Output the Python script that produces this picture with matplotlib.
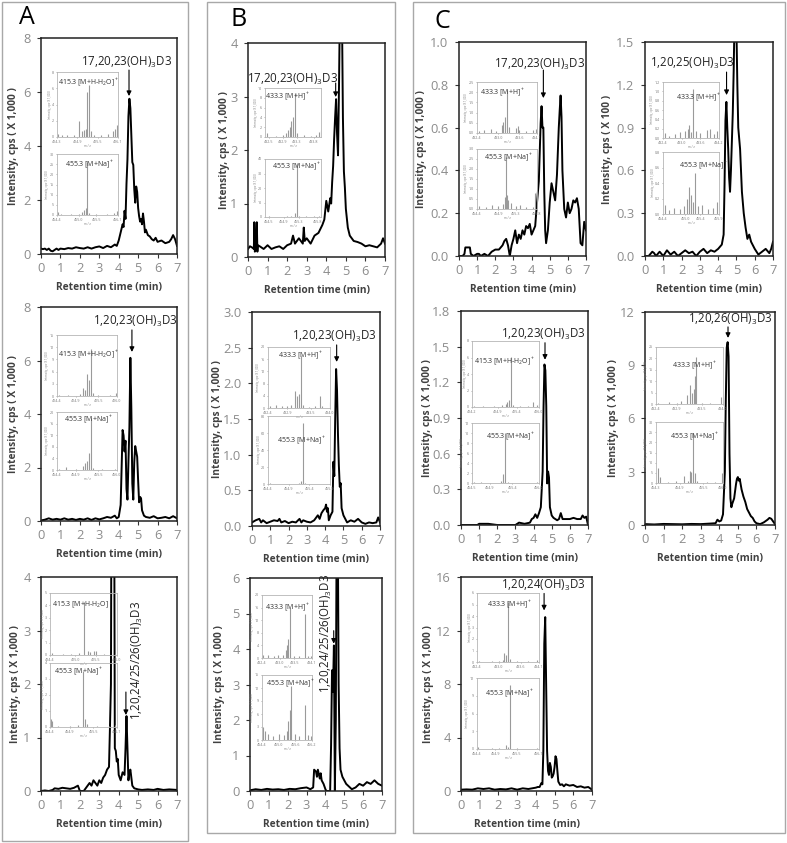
import matplotlib
matplotlib.use('Agg')
import matplotlib.pyplot as plt
from matplotlib.patches import Rectangle
import numpy as np

plt.rcParams['font.family'] = ['Open Sans', 'DejaVu Sans']
plt.rcParams['mathtext.default'] = 'regular'

# ---- chromatograms (retention time, intensity) ----
a1_t = [0.0, 0.1, 0.2, 0.3, 0.4, 0.5, 0.6, 0.7, 0.8, 0.9,
        1.0, 1.2, 1.4, 1.6, 1.8, 2.0, 2.2, 2.4, 2.6, 2.8,
        3.0, 3.2, 3.4, 3.6, 3.7, 3.8, 3.9, 4.0, 4.1, 4.2,
        4.25, 4.3, 4.35, 4.4, 4.45, 4.5, 4.55, 4.6, 4.65, 4.7,
        4.75, 4.8, 4.85, 4.9, 4.95, 5.0, 5.05, 5.1, 5.15, 5.2,
        5.25, 5.3, 5.35, 5.4, 5.5, 5.6, 5.7, 5.8, 5.9, 6.0,
        6.2, 6.4, 6.6, 6.7, 6.8, 6.9, 7.0]
a1_v = [0.2, 0.18, 0.2, 0.15, 0.2, 0.12, 0.1, 0.15, 0.2, 0.15,
        0.2, 0.18, 0.22, 0.2, 0.25, 0.22, 0.2, 0.25, 0.2, 0.25,
        0.28, 0.22, 0.3, 0.25, 0.3, 0.35, 0.3, 0.5, 0.8, 1.1,
        1.0, 1.6, 1.3, 2.6, 3.5, 5.1, 5.75, 5.4, 4.4, 3.4,
        3.3, 2.4, 1.9, 2.5, 2.3, 1.7, 1.4, 1.2, 1.3, 1.1,
        1.5, 1.2, 0.8, 0.9, 0.7, 0.65, 0.55, 0.5, 0.6, 0.45,
        0.5, 0.4, 0.45, 0.55, 0.7, 0.55, 0.3]

a2_t = [0.0, 0.2, 0.4, 0.6, 0.8, 1.0, 1.2, 1.4, 1.6, 1.8,
        2.0, 2.2, 2.4, 2.6, 2.8, 3.0, 3.2, 3.4, 3.6, 3.8,
        3.9, 4.0, 4.1, 4.15, 4.2, 4.25, 4.3, 4.35, 4.4, 4.45,
        4.5, 4.55, 4.6, 4.65, 4.7, 4.75, 4.8, 4.85, 4.9, 4.95,
        5.0, 5.05, 5.1, 5.15, 5.2, 5.3, 5.4, 5.6, 5.8, 6.0,
        6.2, 6.4, 6.6, 6.8, 7.0]
a2_v = [0.02, 0.05, 0.1, 0.05, 0.08, 0.05, 0.1, 0.05, 0.08, 0.04,
        0.08, 0.05, 0.1, 0.04, 0.1, 0.06, 0.1, 0.15, 0.12, 0.2,
        0.1, 0.15, 0.6, 2.0, 3.4, 3.2, 2.6, 3.0, 1.2, 0.8,
        2.2, 3.5, 6.1, 4.2, 1.4, 0.8, 2.2, 2.8, 2.6, 2.4,
        1.5, 0.7, 0.9, 0.85, 0.4, 0.2, 0.15, 0.12, 0.18, 0.1,
        0.12, 0.15, 0.1, 0.18, 0.1]

a3_t = [0.0, 0.2, 0.4, 0.6, 0.7, 0.9, 1.1, 1.3, 1.5, 1.7,
        1.9, 2.0, 2.1, 2.2, 2.3, 2.4, 2.5, 2.6, 2.7, 2.8,
        2.9, 3.0, 3.1, 3.2, 3.3, 3.4, 3.5, 3.55, 3.6, 3.65,
        3.7, 3.75, 3.8, 3.85, 3.9, 3.95, 4.0, 4.1, 4.2, 4.3,
        4.35, 4.4, 4.45, 4.5, 4.55, 4.6, 4.7, 4.8, 5.0, 5.2,
        5.5, 5.8, 6.0, 6.3, 6.6, 7.0]
a3_v = [0.0, 0.01, 0.0, 0.02, 0.05, 0.04, 0.06, 0.05, 0.04, 0.06,
        0.1, 0.0, 0.0, 0.0, 0.05, 0.1, 0.15, 0.1, 0.2, 0.15,
        0.1, 0.2, 0.15, 0.25, 0.3, 0.4, 0.45, 1.2, 2.0, 9.0,
        9.0, 8.0, 0.8, 0.75, 0.55, 0.6, 0.3, 0.2, 0.35, 0.3,
        0.8, 1.4, 0.8, 0.2, 0.35, 0.4, 0.1, 0.05, 0.03, 0.02,
        0.03, 0.02, 0.04, 0.02, 0.03, 0.02]

b1_t = [0.0, 0.1, 0.2, 0.3, 0.32, 0.35, 0.4, 0.45, 0.48, 0.5,
        0.6, 0.8, 1.0, 1.2, 1.4, 1.6, 1.8, 2.0, 2.2, 2.3,
        2.4, 2.5, 2.6, 2.7, 2.8, 2.85, 2.9, 3.0, 3.2, 3.4,
        3.6, 3.8, 3.9, 4.0, 4.1, 4.2, 4.25, 4.3, 4.35, 4.4,
        4.45, 4.5, 4.55, 4.6, 4.65, 4.7, 4.75, 4.8, 4.85, 4.9,
        4.95, 5.0, 5.1, 5.2, 5.3, 5.4, 5.6, 5.8, 6.0, 6.2,
        6.4, 6.6, 6.8, 6.9, 7.0]
b1_v = [0.15, 0.2, 0.18, 0.15, 0.65, 0.1, 0.2, 0.65, 0.1, 0.22,
        0.2, 0.15, 0.22, 0.15, 0.18, 0.2, 0.15, 0.22, 0.25, 0.4,
        0.25, 0.3, 0.35, 0.3, 0.25, 0.55, 0.3, 0.35, 0.25, 0.4,
        0.45, 0.6, 0.7, 1.05, 0.85, 1.1, 1.0, 1.4, 1.7, 2.2,
        2.6, 2.95, 2.3, 1.9, 3.2, 4.8, 5.5, 4.6, 2.6, 1.6,
        1.3, 0.9, 0.55, 0.4, 0.35, 0.3, 0.28, 0.25, 0.2, 0.22,
        0.2, 0.18, 0.25, 0.35, 0.25]

b2_t = [0.0, 0.2, 0.4, 0.5, 0.6, 0.8, 1.0, 1.2, 1.4, 1.5,
        1.6, 1.8, 2.0, 2.2, 2.4, 2.6, 2.7, 2.8, 3.0, 3.2,
        3.4, 3.6, 3.7, 3.8, 3.9, 4.0, 4.05, 4.1, 4.15, 4.2,
        4.3, 4.4, 4.45, 4.5, 4.55, 4.6, 4.65, 4.7, 4.75, 4.8,
        4.85, 4.9, 5.0, 5.1, 5.2, 5.4, 5.6, 5.8, 6.0, 6.2,
        6.4, 6.6, 6.8, 6.9, 7.0]
b2_v = [0.05, 0.08, 0.1, 0.05, 0.08, 0.04, 0.06, 0.08, 0.07, 0.1,
        0.05, 0.07, 0.04, 0.06, 0.05, 0.1, 0.05, 0.08, 0.06, 0.05,
        0.08, 0.15, 0.1, 0.18, 0.22, 0.25, 0.3, 0.2, 0.25, 0.08,
        0.15, 0.2, 0.9, 0.7, 1.5, 2.2, 1.9, 1.3, 0.85, 0.55,
        0.6, 0.25, 0.15, 0.1, 0.05, 0.08, 0.06, 0.1, 0.05, 0.03,
        0.05, 0.04, 0.05, 0.12, 0.05]

b3_t = [0.0, 0.3, 0.6, 0.9, 1.2, 1.5, 1.8, 2.1, 2.4, 2.7,
        3.0, 3.2, 3.35, 3.4, 3.5, 3.55, 3.6, 3.7, 3.75, 3.8,
        3.9, 4.0, 4.05, 4.1, 4.2, 4.25, 4.3, 4.35, 4.4, 4.45,
        4.5, 4.55, 4.6, 4.65, 4.7, 4.75, 4.8, 4.9, 5.0, 5.1,
        5.2, 5.4, 5.6, 5.8, 6.0, 6.2, 6.4, 6.6, 6.8, 7.0]
b3_v = [0.02, 0.05, 0.03, 0.06, 0.04, 0.05, 0.03, 0.06, 0.05, 0.08,
        0.1, 0.05, 0.1, 0.6, 0.55, 0.4, 0.6, 0.35, 0.5, 0.3,
        0.2, 0.05, 0.0, 0.0, 0.0, 0.0, 1.3, 3.4, 2.8, 4.1,
        0.0, 2.0, 8.0, 8.0, 3.0, 1.2, 0.6, 0.4, 0.3, 0.2,
        0.15, 0.05, 0.1, 0.2, 0.15, 0.25, 0.2, 0.3, 0.2, 0.15]

c1_t = [0.0, 0.2, 0.3, 0.35, 0.6, 0.65, 0.8, 1.0, 1.1, 1.2,
        1.4, 1.6, 1.8, 2.0, 2.2, 2.4, 2.5, 2.6, 2.7, 2.8,
        2.9, 3.0, 3.1, 3.2, 3.3, 3.4, 3.5, 3.6, 3.7, 3.8,
        3.9, 4.0, 4.1, 4.2, 4.3, 4.4, 4.5, 4.55, 4.6, 4.65,
        4.7, 4.75, 4.8, 4.9, 5.0, 5.1, 5.2, 5.3, 5.4, 5.5,
        5.55, 5.6, 5.65, 5.7, 5.8, 5.9, 6.0, 6.1, 6.2, 6.3,
        6.4, 6.5, 6.6, 6.7, 6.8, 6.9, 7.0]
c1_v = [0.0, 0.0, 0.01, 0.04, 0.04, 0.01, 0.0, 0.01, 0.01, 0.0,
        0.01, 0.0, 0.02, 0.03, 0.03, 0.05, 0.07, 0.08, 0.05, 0.0,
        0.05, 0.08, 0.12, 0.06, 0.1, 0.08, 0.12, 0.1, 0.14, 0.13,
        0.15, 0.1, 0.12, 0.14, 0.25, 0.35, 0.62, 0.7, 0.6, 0.6,
        0.3, 0.12, 0.06, 0.12, 0.25, 0.34, 0.3, 0.26, 0.38, 0.6,
        0.68, 0.75, 0.65, 0.4, 0.22, 0.18, 0.25, 0.2, 0.22, 0.26,
        0.25, 0.27, 0.22, 0.06, 0.05, 0.16, 0.12]

c2_t = [0.0, 0.2, 0.4, 0.5, 0.6, 0.8, 1.0, 1.2, 1.4, 1.6,
        1.8, 2.0, 2.2, 2.4, 2.6, 2.8, 3.0, 3.2, 3.4, 3.6,
        3.8, 4.0, 4.2, 4.3, 4.35, 4.4, 4.45, 4.5, 4.55, 4.6,
        4.65, 4.7, 4.75, 4.8, 4.85, 4.9, 4.95, 5.0, 5.05, 5.1,
        5.2, 5.3, 5.4, 5.5, 5.6, 5.7, 5.8, 6.0, 6.2, 6.4,
        6.6, 6.8, 6.9, 7.0]
c2_v = [0.0, 0.0, 0.03, 0.02, 0.0, 0.03, 0.0, 0.04, 0.01, 0.03,
        0.0, 0.02, 0.04, 0.02, 0.03, 0.0, 0.03, 0.05, 0.02, 0.04,
        0.03, 0.05, 0.08, 0.15, 0.5, 0.95, 1.08, 0.9, 0.75, 0.55,
        0.45, 0.6, 0.8, 1.0, 1.3, 1.7, 1.9, 1.6, 1.2, 0.9,
        0.75, 0.45, 0.3, 0.2, 0.12, 0.15, 0.1, 0.05, 0.01, 0.03,
        0.05, 0.02, 0.05, 0.1]

c3_t = [0.0, 0.5, 0.9, 1.0, 1.5, 2.0, 2.5, 3.0, 3.2, 3.5,
        3.8, 3.9, 4.0, 4.1, 4.2, 4.3, 4.4, 4.45, 4.5, 4.55,
        4.6, 4.65, 4.7, 4.75, 4.8, 4.85, 4.9, 5.0, 5.1, 5.2,
        5.3, 5.4, 5.5, 5.6, 5.8, 6.0, 6.2, 6.4, 6.6, 6.7,
        6.8, 6.9, 7.0]
c3_v = [0.0, 0.0, 0.0, 0.01, 0.01, 0.0, 0.0, 0.0, 0.02, 0.01,
        0.02, 0.05, 0.06, 0.09, 0.06, 0.1, 0.15, 0.3, 0.45, 1.0,
        1.35, 1.3, 1.0, 0.35, 0.45, 0.4, 0.15, 0.08, 0.06, 0.05,
        0.04, 0.05, 0.1, 0.05, 0.05, 0.05, 0.06, 0.05, 0.05, 0.08,
        0.06, 0.07, 0.0]

c4_t = [0.0, 0.5, 1.0, 1.5, 2.0, 2.5, 3.0, 3.5, 3.8, 3.9,
        4.0, 4.1, 4.2, 4.3, 4.35, 4.4, 4.45, 4.5, 4.55, 4.6,
        4.65, 4.7, 4.8, 4.9, 4.95, 5.0, 5.05, 5.1, 5.2, 5.3,
        5.4, 5.5, 5.6, 5.7, 5.8, 5.9, 6.0, 6.2, 6.4, 6.6,
        6.7, 6.8, 6.9, 7.0]
c4_v = [0.05, 0.03, 0.06, 0.05, 0.04, 0.06, 0.05, 0.08, 0.1, 0.3,
        0.2, 0.25, 0.6, 3.0, 7.0, 10.0, 10.3, 9.5, 4.0, 1.5,
        1.0, 1.2, 1.5, 2.3, 2.6, 2.7, 2.5, 2.6, 2.0, 1.6,
        1.3, 0.9, 0.7, 0.5, 0.4, 0.2, 0.1, 0.05, 0.15, 0.3,
        0.4, 0.35, 0.2, 0.05]

c5_t = [0.0, 0.3, 0.6, 0.9, 1.2, 1.5, 1.8, 2.1, 2.4, 2.7,
        3.0, 3.3, 3.6, 3.8, 4.0, 4.1, 4.2, 4.3, 4.35, 4.4,
        4.45, 4.5, 4.55, 4.6, 4.65, 4.7, 4.75, 4.8, 4.85, 4.9,
        4.95, 5.0, 5.05, 5.1, 5.15, 5.2, 5.3, 5.4, 5.5, 5.6,
        5.8, 6.0, 6.2, 6.4, 6.6, 6.8, 6.9, 7.0]
c5_v = [0.1, 0.12, 0.1, 0.2, 0.15, 0.2, 0.1, 0.15, 0.12, 0.2,
        0.1, 0.2, 0.15, 0.2, 0.25, 0.3, 0.3, 0.6, 0.5, 3.0,
        11.0, 13.0, 8.0, 3.0, 1.5, 1.2, 2.1, 1.8, 1.0, 1.1,
        1.3, 1.8, 2.6, 2.4, 1.5, 0.7, 0.45, 0.5, 0.35, 0.5,
        0.4, 0.45, 0.3, 0.35, 0.25, 0.3, 0.2, 0.1]

# ---- inset mass spectra (m/z, intensity) ----
a1_ms1_mz = [414.32, 414.45, 414.6, 414.8, 414.95, 415.05, 415.1, 415.15, 415.2, 415.25, 415.3, 415.4, 415.6, 415.8, 415.95, 416.02, 416.08]
a1_ms1_i = [0.4, 0.2, 0.2, 0.25, 2.0, 0.8, 0.9, 1.0, 5.6, 6.4, 0.8, 0.3, 0.3, 0.4, 0.7, 1.0, 1.5]
a1_ms2_mz = [454.42, 454.5, 454.8, 455.0, 455.1, 455.15, 455.2, 455.25, 455.3, 455.5, 455.8, 456.0, 456.08]
a1_ms2_i = [1.5, 0.5, 0.3, 0.5, 1.5, 2.5, 3.5, 26.0, 1.0, 0.5, 0.4, 1.0, 2.0]

a2_ms1_mz = [414.45, 414.7, 415.0, 415.1, 415.15, 415.2, 415.25, 415.3, 415.35, 415.5, 415.8, 415.98]
a2_ms1_i = [0.3, 0.2, 0.5, 2.0, 1.5, 5.5, 4.0, 11.5, 0.8, 0.3, 0.3, 0.8]
a2_ms2_mz = [454.45, 454.65, 454.9, 455.1, 455.15, 455.2, 455.25, 455.3, 455.35, 455.6, 455.95]
a2_ms2_i = [0.5, 1.2, 0.3, 1.5, 2.5, 3.0, 6.0, 18.0, 0.6, 0.3, 0.5]

a3_ms1_mz = [414.45, 414.7, 414.9, 415.1, 415.2, 415.3, 415.35, 415.45, 415.5, 415.7, 415.95]
a3_ms1_i = [0.15, 0.1, 0.1, 0.15, 4.3, 0.3, 0.25, 0.35, 0.3, 0.1, 0.1]
a3_ms2_mz = [454.42, 454.45, 454.6, 454.9, 455.1, 455.25, 455.3, 455.35, 455.6, 455.9, 456.05]
a3_ms2_i = [0.5, 0.4, 0.05, 0.05, 0.1, 3.5, 0.5, 0.2, 0.05, 0.05, 0.1]

b1_ms1_mz = [432.45, 432.7, 432.9, 433.0, 433.05, 433.1, 433.15, 433.2, 433.25, 433.3, 433.5, 433.7, 433.85, 433.95, 434.0]
b1_ms1_i = [0.8, 0.3, 0.4, 0.8, 1.5, 2.0, 3.2, 4.0, 9.0, 0.8, 0.4, 0.3, 0.5, 1.0, 1.5]
b1_ms2_mz = [454.5, 454.8, 455.0, 455.1, 455.2, 455.25, 455.3, 455.5, 455.7, 455.85]
b1_ms2_i = [0.5, 0.3, 0.5, 1.0, 2.5, 37.0, 1.0, 0.5, 0.8, 0.5]

b2_ms1_mz = [432.45, 432.6, 432.75, 432.9, 433.0, 433.1, 433.15, 433.2, 433.25, 433.3, 433.45, 433.6, 433.75, 433.8, 434.0]
b2_ms1_i = [0.5, 1.0, 0.8, 0.5, 1.0, 5.5, 4.0, 4.5, 17.0, 1.0, 0.4, 0.5, 3.8, 0.8, 2.0]
b2_ms2_mz = [454.45, 454.7, 455.0, 455.15, 455.2, 455.25, 455.3, 455.5, 455.8]
b2_ms2_i = [1.0, 0.5, 0.5, 1.0, 3.0, 72.0, 1.5, 0.5, 0.5]

b3_ms1_mz = [432.45, 432.6, 432.8, 432.95, 433.1, 433.2, 433.25, 433.3, 433.35, 433.5, 433.65, 433.85, 433.95, 434.05]
b3_ms1_i = [0.8, 1.0, 0.6, 0.8, 1.0, 2.5, 4.0, 6.0, 16.0, 0.6, 0.5, 14.0, 0.5, 0.6]
b3_ms2_mz = [454.42, 454.5, 454.6, 454.8, 455.0, 455.2, 455.3, 455.35, 455.4, 455.45, 455.6, 455.75, 455.95, 456.05, 456.15]
b3_ms2_i = [3.0, 2.0, 1.5, 1.0, 1.5, 1.2, 2.0, 4.5, 7.0, 12.5, 1.5, 1.0, 8.0, 1.2, 1.0]

c1_ms1_mz = [432.45, 432.6, 432.8, 432.95, 433.1, 433.15, 433.2, 433.25, 433.3, 433.5, 433.55, 433.6, 433.8, 434.0, 434.08]
c1_ms1_i = [0.1, 0.15, 0.2, 0.1, 0.4, 0.55, 0.8, 2.1, 0.3, 0.25, 0.35, 0.15, 0.1, 0.15, 0.2]
c1_ms2_mz = [454.45, 454.6, 454.75, 454.9, 455.0, 455.05, 455.08, 455.1, 455.12, 455.2, 455.3, 455.4, 455.55, 455.7, 455.75]
c1_ms2_i = [0.15, 0.1, 0.2, 0.15, 0.25, 0.6, 2.6, 0.7, 0.45, 0.3, 0.15, 0.2, 0.1, 0.1, 0.8]

c2_ms1_mz = [432.45, 432.6, 432.8, 432.95, 433.1, 433.2, 433.25, 433.3, 433.37, 433.45, 433.6, 433.8, 433.9, 434.05, 434.15]
c2_ms1_i = [0.1, 0.05, 0.08, 0.12, 0.15, 0.2, 0.28, 0.12, 1.05, 0.15, 0.1, 0.18, 0.2, 0.08, 0.15]
c2_ms2_mz = [454.45, 454.55, 454.7, 454.85, 454.95, 455.05, 455.1, 455.15, 455.2, 455.25, 455.35, 455.45, 455.6, 455.75, 455.85]
c2_ms2_i = [0.12, 0.05, 0.08, 0.06, 0.1, 0.2, 0.35, 0.25, 0.15, 0.53, 0.1, 0.12, 0.06, 0.08, 0.15]

c3_ms1_mz = [414.25, 414.5, 414.8, 415.0, 415.1, 415.15, 415.2, 415.25, 415.3, 415.5, 415.7, 415.85, 415.95, 416.0]
c3_ms1_i = [0.15, 0.1, 0.15, 0.2, 0.4, 0.6, 0.9, 6.1, 0.3, 0.15, 0.1, 0.6, 0.3, 0.5]
c3_ms2_mz = [454.55, 454.7, 455.0, 455.15, 455.2, 455.25, 455.3, 455.5, 455.7, 455.95]
c3_ms2_i = [0.3, 0.2, 0.1, 0.4, 1.8, 10.0, 0.3, 0.1, 0.1, 0.2]

c4_ms1_mz = [432.45, 432.7, 432.9, 433.0, 433.15, 433.2, 433.25, 433.3, 433.32, 433.35, 433.5, 433.7, 433.95]
c4_ms1_i = [0.3, 0.7, 0.5, 1.5, 4.0, 8.5, 5.0, 6.5, 12.5, 20.5, 0.5, 0.3, 3.0]
c4_ms2_mz = [454.35, 454.4, 454.6, 454.8, 455.0, 455.1, 455.15, 455.2, 455.25, 455.3, 455.35, 455.6, 455.8, 455.98]
c4_ms2_i = [7.5, 3.0, 0.5, 1.0, 3.5, 1.0, 6.0, 5.5, 24.5, 5.0, 1.0, 0.5, 0.5, 5.0]

c5_ms1_mz = [432.45, 432.8, 433.0, 433.1, 433.15, 433.2, 433.25, 433.3, 433.5, 433.8, 434.05]
c5_ms1_i = [0.1, 0.05, 0.1, 0.2, 0.8, 0.6, 5.2, 0.3, 0.05, 0.05, 0.2]
c5_ms2_mz = [454.42, 454.8, 455.0, 455.2, 455.25, 455.3, 455.5, 455.8, 456.05]
c5_ms2_i = [0.3, 0.1, 0.1, 0.6, 0.3, 10.8, 0.1, 0.05, 0.1]

W, H = 787, 843
fig = plt.figure(figsize=(W / 100, H / 100), dpi=100)


def px(l, t, r, b):
    return [l / W, 1 - b / H, (r - l) / W, (b - t) / H]


T_H2O = r'415.3 [M+H-H$_2$O]$^+$'
T_H = r'433.3 [M+H]$^+$'
T_NA = r'455.3 [M+Na]$^+$'
YL = 'Intensity, cps ( X 1,000 )'


def inset(rect, mz, inten, xlim, xticks, ymax, ystep, title, tx, ty):
    ax = fig.add_axes(px(*rect), zorder=5)
    ax.patch.set_alpha(0)
    ax.vlines(mz, 0, inten, color='#9a9a9a', lw=0.8)
    ax.set_xlim(*xlim)
    ax.set_ylim(0, ymax)
    ax.set_xticks(xticks)
    ax.set_xticklabels(['%.1f' % x for x in xticks])
    yt = np.arange(0, ymax + ystep / 2, ystep)
    ax.set_yticks(yt)
    fmt = '%.1f' if ymax <= 3 else '%d'
    ax.set_yticklabels([fmt % y for y in yt])
    ax.tick_params(length=1, width=0.4, labelsize=2.6, pad=1,
                   colors='#777777')
    for s in ax.spines.values():
        s.set_color('#b5b5b5')
        s.set_linewidth(0.6)
    ax.set_xlabel('m / z', fontsize=2.2, labelpad=0.4, color='#777777')
    ax.set_ylabel('Intensity, cps (X 1,000)', fontsize=2.0, labelpad=0.4,
                  color='#777777')
    ax.text(tx, 1 - ty, title, transform=ax.transAxes, ha='center',
            va='top', fontsize=5.0, color='#333333')


def chrom(p):
    l, t, r, b = p['rect']
    w, h = r - l, b - t
    ax = fig.add_axes(px(l, t, r, b), zorder=1)
    ax.plot(p['t'], p['v'], color='black', lw=1.4)
    ax.set_xlim(0, 7)
    ax.set_ylim(0, p['ymax'])
    ax.set_xticks(range(8))
    yt = np.arange(0, p['ymax'] + p['ystep'] / 2, p['ystep'])
    ax.set_yticks(yt)
    ax.set_yticklabels([p['fmt'] % y for y in yt])
    ax.tick_params(direction='out', length=3, width=0.8, labelsize=9.3,
                   labelcolor='#8c8c8c', color='#333333')
    ax.tick_params(axis='x', pad=2.5)
    ax.tick_params(axis='y', pad=4.5)
    for s in ax.spines.values():
        s.set_color('#222222')
        s.set_linewidth(1.1)
    ax.set_xlabel('Retention time (min)', fontsize=7.3, fontweight='bold',
                  color='#404040')
    ax.xaxis.set_label_coords(0.5, -28 / h)
    ax.set_ylabel(p.get('ylab', YL), fontsize=7.3, fontweight='bold',
                  color='#404040')
    ax.yaxis.set_label_coords((p['ylx'] + 6 - l) / w, 0.5)
    tip = (p['tip_t'], p['tip_v'])
    ax.annotate('', xy=tip, xytext=(0, p['alen']), textcoords='offset pixels',
                arrowprops=dict(arrowstyle='-|>', color='black', lw=0.8,
                                mutation_scale=7, shrinkA=0, shrinkB=0))
    if p.get('rot'):
        ax.annotate(p['name'], xy=tip, xytext=(p['dx'], p['dy']),
                    textcoords='offset pixels', ha='center', va='bottom',
                    rotation=90, fontsize=8.3, color='#222222')
    else:
        ax.annotate(p['name'], xy=tip, xytext=(p['dx'], p['dy']),
                    textcoords='offset pixels', ha='right', va='center',
                    fontsize=8.3, color='#222222')
    for ins in p['insets']:
        inset(*ins)


panels = [
    dict(rect=(41, 38, 177, 254), t=a1_t, v=a1_v, ymax=8, ystep=2, fmt='%d', ylx=13,
         name=r'17,20,23(OH)$_3$D3', tip_t=4.53, tip_v=5.85, alen=26, dx=43, dy=34,
         insets=[((57, 72, 118, 137), a1_ms1_mz, a1_ms1_i, (414.3, 416.1), [414.3, 414.9, 415.5, 416.1], 8, 2, T_H2O, 0.52, 0.08),
                 ((57, 154, 118, 215), a1_ms2_mz, a1_ms2_i, (454.4, 456.1), [454.4, 455.0, 455.5, 456.1], 30, 5, T_NA, 0.54, 0.08)]),
    dict(rect=(41, 307, 177, 521), t=a2_t, v=a2_v, ymax=8, ystep=2, fmt='%d', ylx=13,
         name=r'1,20,23(OH)$_3$D3', tip_t=4.68, tip_v=6.32, alen=22, dx=45, dy=30,
         insets=[((57, 335, 117, 396), a2_ms1_mz, a2_ms1_i, (414.4, 416.0), [414.4, 414.9, 415.5, 416.0], 15, 3, T_H2O, 0.53, 0.22),
                 ((57, 412, 117, 470), a2_ms2_mz, a2_ms2_i, (454.4, 456.0), [454.4, 454.9, 455.5, 456.0], 20, 4, T_NA, 0.53, 0.04)]),
    dict(rect=(41, 577, 177, 791), t=a3_t, v=a3_v, ymax=4, ystep=1, fmt='%d', ylx=15,
         name=r'1,20,24/25/26(OH)$_3$D3', tip_t=4.37, tip_v=1.42, alen=23, dx=12, dy=-5, rot=True,
         insets=[((50, 593, 117, 655), a3_ms1_mz, a3_ms1_i, (414.4, 416.0), [414.4, 415.0, 415.5, 416.0], 5, 1, r'415.3 [M+H-H$_2$O]', 0.46, 0.1),
                 ((50, 663, 117, 727), a3_ms2_mz, a3_ms2_i, (454.4, 456.1), [454.4, 454.9, 455.5, 456.1], 4, 1, T_NA, 0.43, 0.04)]),
    dict(rect=(248, 43, 385, 257), t=b1_t, v=b1_v, ymax=4, ystep=1, fmt='%d', ylx=224,
         name=r'17,20,23(OH)$_3$D3', tip_t=4.48, tip_v=2.99, alen=14, dx=2, dy=18,
         insets=[((265, 88, 321, 137), b1_ms1_mz, b1_ms1_i, (432.4, 434.0), [432.5, 432.9, 433.3, 433.8], 10, 2, T_H, 0.4, 0.06),
                 ((265, 159, 321, 217), b1_ms2_mz, b1_ms2_i, (454.4, 455.9), [454.5, 454.9, 455.3, 455.8], 40, 10, T_NA, 0.56, 0.03)]),
    dict(rect=(252, 312, 380, 526), t=b2_t, v=b2_v, ymax=3, ystep=0.5, fmt='%.1f', ylx=217,
         name=r'1,20,23(OH)$_3$D3', tip_t=4.63, tip_v=2.30, alen=17, dx=40, dy=25,
         insets=[((268, 347, 330, 408), b2_ms1_mz, b2_ms1_i, (432.4, 434.0), [432.4, 432.9, 433.5, 434.0], 20, 4, T_H, 0.52, 0.04),
                 ((268, 416, 330, 484), b2_ms2_mz, b2_ms2_i, (454.4, 455.9), [454.4, 454.9, 455.4, 455.9], 80, 20, T_NA, 0.55, 0.28)]),
    dict(rect=(250, 578, 382, 791), t=b3_t, v=b3_v, ymax=6, ystep=1, fmt='%d', ylx=219,
         name=r'1,20,24/25/26(OH)$_3$D3', tip_t=4.44, tip_v=4.15, alen=13, dx=-7, dy=-49, rot=True,
         insets=[((262, 595, 312, 658), b3_ms1_mz, b3_ms1_i, (432.4, 434.1), [432.4, 433.0, 433.5, 434.1], 20, 4, T_H, 0.51, 0.11),
                 ((262, 675, 312, 740), b3_ms2_mz, b3_ms2_i, (454.4, 456.2), [454.4, 455.0, 455.6, 456.2], 15, 3, T_NA, 0.57, 0.04)]),
    dict(rect=(459, 42, 586, 256), t=c1_t, v=c1_v, ymax=1.0, ystep=0.2, fmt='%.1f', ylx=421,
         name=r'17,20,23(OH)$_3$D3', tip_t=4.65, tip_v=0.738, alen=28, dx=42, dy=34,
         insets=[((477, 82, 537, 133), c1_ms1_mz, c1_ms1_i, (432.4, 434.1), [432.4, 433.0, 433.6, 434.1], 2.5, 0.5, T_H, 0.42, 0.1),
                 ((477, 149, 537, 209), c1_ms2_mz, c1_ms2_i, (454.4, 455.8), [454.4, 454.9, 455.3, 455.8], 3.0, 0.5, T_NA, 0.52, 0.05)]),
    dict(rect=(645, 42, 773, 256), t=c2_t, v=c2_v, ymax=1.5, ystep=0.3, fmt='%.1f', ylx=607,
         ylab='Intensity, cps ( X 100 )',
         name=r'1,20,25(OH)$_3$D3', tip_t=4.46, tip_v=1.128, alen=23, dx=8, dy=32,
         insets=[((663, 82, 719, 138), c2_ms1_mz, c2_ms1_i, (432.4, 434.2), [432.4, 433.0, 433.6, 434.2], 1.2, 0.2, T_H, 0.64, 0.17),
                 ((663, 152, 719, 214), c2_ms2_mz, c2_ms2_i, (454.4, 455.9), [454.4, 455.0, 455.4, 455.9], 0.8, 0.2, T_NA, 0.73, 0.12)]),
    dict(rect=(461, 311, 588, 525), t=c3_t, v=c3_v, ymax=1.8, ystep=0.3, fmt='%.1f', ylx=427,
         name=r'1,20,23(OH)$_3$D3', tip_t=4.63, tip_v=1.39, alen=17, dx=40, dy=25,
         insets=[((472, 341, 539, 407), c3_ms1_mz, c3_ms1_i, (414.2, 416.0), [414.2, 414.9, 415.4, 416.0], 8, 2, T_H2O, 0.49, 0.23),
                 ((472, 423, 539, 483), c3_ms2_mz, c3_ms2_i, (454.5, 456.0), [454.5, 454.9, 455.4, 456.0], 12, 2, T_NA, 0.57, 0.14)]),
    dict(rect=(645, 312, 775, 525), t=c4_t, v=c4_v, ymax=12, ystep=3, fmt='%d', ylx=613,
         name=r'1,20,26(OH)$_3$D3', tip_t=4.47, tip_v=10.54, alen=11, dx=44, dy=18,
         insets=[((656, 347, 723, 404), c4_ms1_mz, c4_ms1_i, (432.4, 434.0), [432.4, 432.9, 433.5, 434.0], 25, 5, T_H, 0.58, 0.22),
                 ((656, 422, 723, 483), c4_ms2_mz, c4_ms2_i, (454.3, 456.0), [454.3, 454.9, 455.5, 456.0], 30, 5, T_NA, 0.57, 0.15)]),
    dict(rect=(461, 577, 592, 791), t=c5_t, v=c5_v, ymax=16, ystep=4, fmt='%d', ylx=428,
         name=r'1,20,24(OH)$_3$D3', tip_t=4.44, tip_v=13.5, alen=17, dx=41, dy=25,
         insets=[((477, 593, 539, 662), c5_ms1_mz, c5_ms1_i, (432.4, 434.1), [432.4, 433.0, 433.6, 434.1], 6, 1, T_H, 0.52, 0.09),
                 ((477, 678, 539, 749), c5_ms2_mz, c5_ms2_i, (454.4, 456.1), [454.4, 454.9, 455.5, 456.1], 12, 3, T_NA, 0.52, 0.14)]),
]

for p in panels:
    chrom(p)

# panel frames and letters
for (l, t, r, b) in [(2, 2, 188, 841), (207, 2, 395, 833), (413, 2, 785, 833)]:
    fig.add_artist(Rectangle((l / W, 1 - b / H), (r - l) / W, (b - t) / H,
                             transform=fig.transFigure, fill=False,
                             edgecolor='#a8a8a8', lw=1.0))
for letter, x, y in [('A', 27, 17), ('B', 239, 19), ('C', 442, 22)]:
    fig.text(x / W, 1 - y / H, letter, fontsize=18, ha='center', va='center')

fig.savefig('out.png', dpi=100)
